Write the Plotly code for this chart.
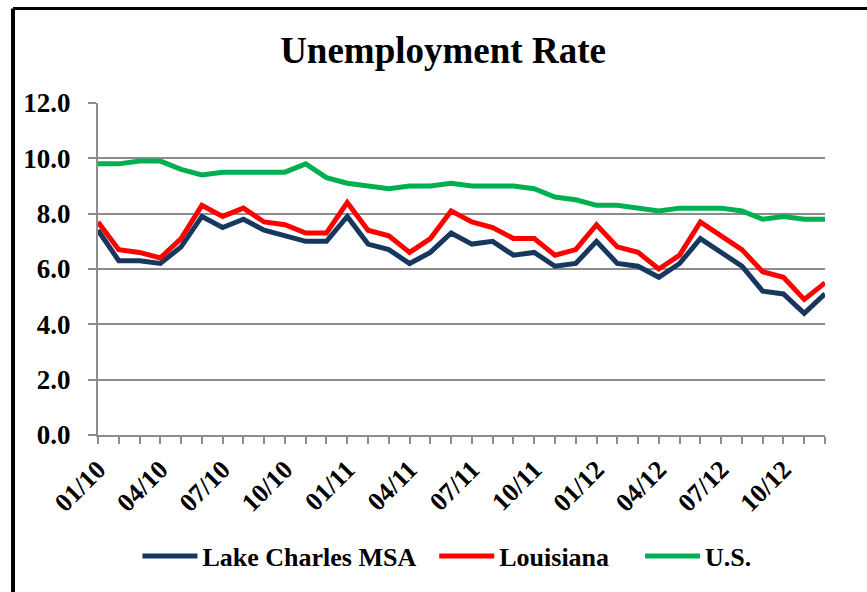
import plotly.graph_objects as go

months = [f"{m:02d}/{y}" for y in ("10", "11", "12") for m in range(1, 13)]
label_months = ["01/10", "04/10", "07/10", "10/10", "01/11", "04/11", "07/11",
                "10/11", "01/12", "04/12", "07/12", "10/12"]

lake_charles = [7.4, 6.3, 6.3, 6.2, 6.8, 7.9, 7.5, 7.8, 7.4, 7.2,
                7.0, 7.0, 7.9, 6.9, 6.7, 6.2, 6.6, 7.3, 6.9, 7.0,
                6.5, 6.6, 6.1, 6.2, 7.0, 6.2, 6.1, 5.7, 6.2, 7.1,
                6.6, 6.1, 5.2, 5.1, 4.4, 5.1]
louisiana = [7.7, 6.7, 6.6, 6.4, 7.1, 8.3, 7.9, 8.2, 7.7, 7.6,
             7.3, 7.3, 8.4, 7.4, 7.2, 6.6, 7.1, 8.1, 7.7, 7.5,
             7.1, 7.1, 6.5, 6.7, 7.6, 6.8, 6.6, 6.0, 6.5, 7.7,
             7.2, 6.7, 5.9, 5.7, 4.9, 5.5]
us = [9.8, 9.8, 9.9, 9.9, 9.6, 9.4, 9.5, 9.5, 9.5, 9.5,
      9.8, 9.3, 9.1, 9.0, 8.9, 9.0, 9.0, 9.1, 9.0, 9.0,
      9.0, 8.9, 8.6, 8.5, 8.3, 8.3, 8.2, 8.1, 8.2, 8.2,
      8.2, 8.1, 7.8, 7.9, 7.8, 7.8]

series_names = ["Lake Charles MSA", "Louisiana", "U.S."]
series_colors = ["#17375E", "#FF0000", "#00B050"]
legend_pad = [2, 4, 0]
y_ticks = [0, 2, 4, 6, 8, 10, 12]

FONT = "Liberation Serif"
GRID = "#8C8C8C"

fig = go.Figure()
for name, vals, col, pad in zip(series_names, [lake_charles, louisiana, us],
                                series_colors, legend_pad):
    fig.add_trace(go.Scatter(x=months, y=vals, mode="lines",
                             name=f"<b>{name}</b>" + "&nbsp;" * pad,
                             line=dict(color=col, width=5)))

fig.update_layout(
    width=867, height=592,
    margin=dict(l=98, r=42, t=103, b=155),
    paper_bgcolor="white", plot_bgcolor="white",
    font=dict(family=FONT, color="black"),
    title=dict(text="<b>Unemployment Rate</b>", x=0.4746, xref="paper",
               y=0.9155, yref="container", xanchor="center", yanchor="middle",
               font=dict(family=FONT, size=37, color="black")),
    showlegend=True,
    legend=dict(orientation="h", x=0.48, xanchor="center", y=-0.365, yanchor="middle",
                font=dict(family=FONT, size=26, color="black"),
                itemwidth=55, tracegroupgap=0, bgcolor="rgba(0,0,0,0)"),
    xaxis=dict(type="category", range=[0, len(months) - 1], automargin=False,
               tickmode="array", tickvals=months,
               ticktext=[f"<b>{m}</b>" if m in label_months else "" for m in months],
               tickangle=-45, ticks="outside", ticklen=7, tickwidth=2, tickcolor=GRID,
               showline=True, linecolor=GRID, linewidth=2, showgrid=False,
               tickfont=dict(family=FONT, size=26, color="black"),
               zeroline=False),
    yaxis=dict(range=[0, 12], tickmode="array", tickvals=y_ticks, automargin=False,
               ticktext=[f"<b>{v:.1f}</b>" for v in y_ticks],
               ticks="outside", ticklen=8, tickwidth=2, tickcolor=GRID,
               showline=True, linecolor=GRID, linewidth=2,
               showgrid=True, gridcolor=GRID, gridwidth=2, zeroline=False,
               ticklabelstandoff=12,
               tickfont=dict(family=FONT, size=27, color="black")),
    shapes=[
        dict(type="line", xref="paper", yref="paper", x0=-0.1169, x1=-0.1169,
             y0=1.2844, y1=-0.6, line=dict(color="black", width=4)),
        dict(type="line", xref="paper", yref="paper", x0=-0.1169, x1=1.2,
             y0=1.2844, y1=1.2844, line=dict(color="black", width=3)),
    ],
)

fig.write_html("out.html")
